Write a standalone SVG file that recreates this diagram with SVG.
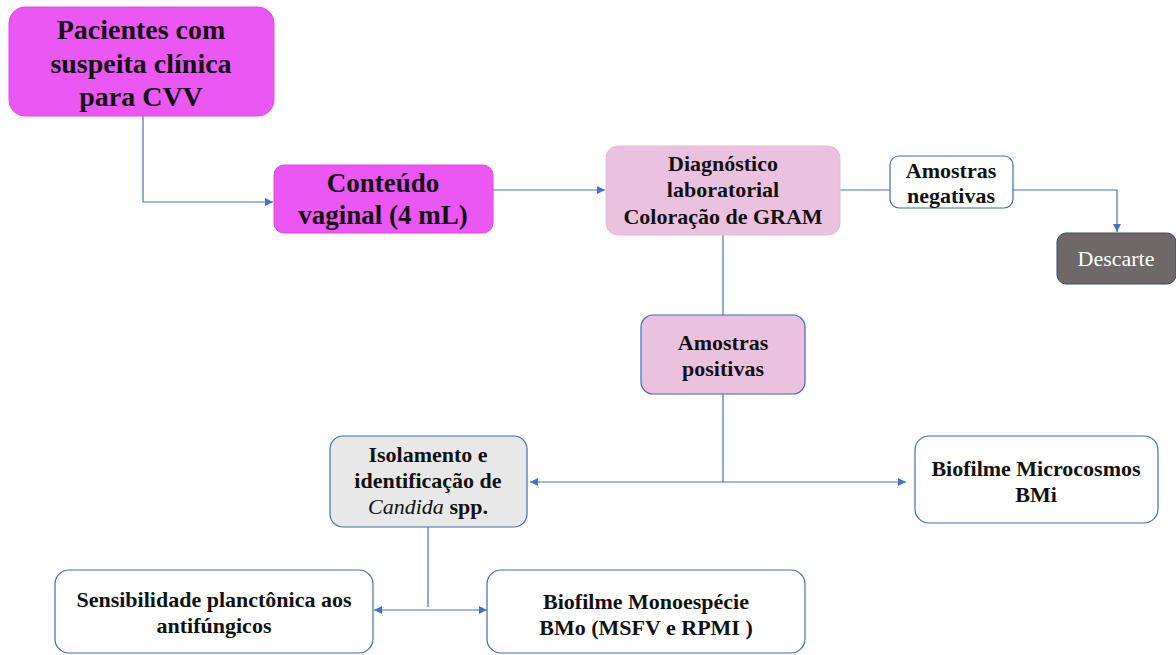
<svg xmlns="http://www.w3.org/2000/svg" width="1176" height="655" viewBox="0 0 1176 655">
<style>
.t{font-family:"Liberation Serif","Times New Roman",serif;font-weight:bold;text-anchor:middle;fill:#111}
.s22{font-size:22px}
.big{font-size:28px}
.mid{font-size:27px}
.mag{fill:#EA57F2;stroke:#E04BE8;stroke-width:1}
.pink{fill:#EBC1E0;stroke:#E6B8DA;stroke-width:1}
.wht{fill:#FFFFFF;stroke:#3E6DB5;stroke-width:1.2}
.c{fill:none;stroke:#4472C4;stroke-width:1.2}
</style>
<defs>
<marker id="ah" viewBox="0 0 10 10" refX="10" refY="5" markerWidth="8" markerHeight="8" markerUnits="userSpaceOnUse" orient="auto-start-reverse">
<path d="M0,0 L10,5 L0,10 z" fill="#4472C4"/>
</marker>
</defs>
<rect width="1176" height="655" fill="#FFFFFF"/>
<g id="connectors">
<path class="c" d="M143,116 V202 H273" marker-end="url(#ah)"/>
<path class="c" d="M493,190 H605" marker-end="url(#ah)"/>
<path class="c" d="M840,190 H890"/>
<path class="c" d="M1013,190 H1117 V232" marker-end="url(#ah)"/>
<path class="c" d="M723,235 V315"/>
<path class="c" d="M723,394 V482"/>
<path class="c" d="M530,482 H906" marker-start="url(#ah)" marker-end="url(#ah)"/>
<path class="c" d="M428,527 V607"/>
<path class="c" d="M374,610 H487" marker-start="url(#ah)" marker-end="url(#ah)"/>
</g>
<g id="pacientes">
<rect class="mag" x="9" y="7" width="265" height="109" rx="16"/>
<text class="t big" x="141" y="39">Pacientes com</text>
<text class="t big" x="141" y="73">suspeita clínica</text>
<text class="t big" x="141" y="106">para CVV</text>
</g>
<g id="conteudo">
<rect class="mag" x="274" y="165" width="219" height="68" rx="10"/>
<text class="t mid" x="383" y="192">Conteúdo</text>
<text class="t mid" x="383" y="224">vaginal (4 mL)</text>
</g>
<g id="diagnostico">
<rect class="pink" x="606" y="146" width="234" height="89" rx="12"/>
<text class="t s22" x="723" y="171">Diagnóstico</text>
<text class="t s22" x="723" y="197">laboratorial</text>
<text class="t s22" x="723" y="224">Coloração de GRAM</text>
</g>
<g id="negativas">
<rect class="wht" x="890" y="156" width="123" height="52" rx="9"/>
<text class="t s22" x="951" y="178">Amostras</text>
<text class="t s22" x="951" y="203">negativas</text>
</g>
<g id="descarte">
<rect x="1057" y="233" width="119" height="51" rx="9" fill="#6E6868" stroke="#3F4A5A" stroke-width="1"/>
<text x="1116" y="266" style="font-family:'Liberation Serif','Times New Roman',serif;font-size:22px;text-anchor:middle;fill:#FFFFFF">Descarte</text>
</g>
<g id="positivas">
<rect x="641" y="315" width="164" height="79" rx="12" fill="#EBC1E0" stroke="#3E6DB5" stroke-width="1.2"/>
<text class="t s22" x="723" y="350">Amostras</text>
<text class="t s22" x="723" y="376">positivas</text>
</g>
<g id="isolamento">
<rect x="330" y="436" width="197" height="91" rx="13" fill="#E8E8E8" stroke="#3E6DB5" stroke-width="1.2"/>
<text class="t s22" x="428" y="462">Isolamento e</text>
<text class="t s22" x="428" y="488">identificação de</text>
<text class="t s22" x="428" y="514"><tspan font-style="italic" font-weight="normal">Candida</tspan> spp.</text>
</g>
<g id="microcosmos">
<rect class="wht" x="915" y="436" width="243" height="87" rx="14"/>
<text class="t s22" x="1036" y="476">Biofilme Microcosmos</text>
<text class="t s22" x="1036" y="502">BMi</text>
</g>
<g id="sensibilidade">
<rect class="wht" x="55" y="570" width="318" height="83" rx="14"/>
<text class="t s22" x="214" y="607">Sensibilidade planctônica aos</text>
<text class="t s22" x="214" y="633">antifúngicos</text>
</g>
<g id="monoespecie">
<rect class="wht" x="487" y="570" width="318" height="83" rx="14"/>
<text class="t s22" x="646" y="609">Biofilme Monoespécie</text>
<text class="t s22" x="646" y="635">BMo (MSFV e RPMI )</text>
</g>
</svg>
